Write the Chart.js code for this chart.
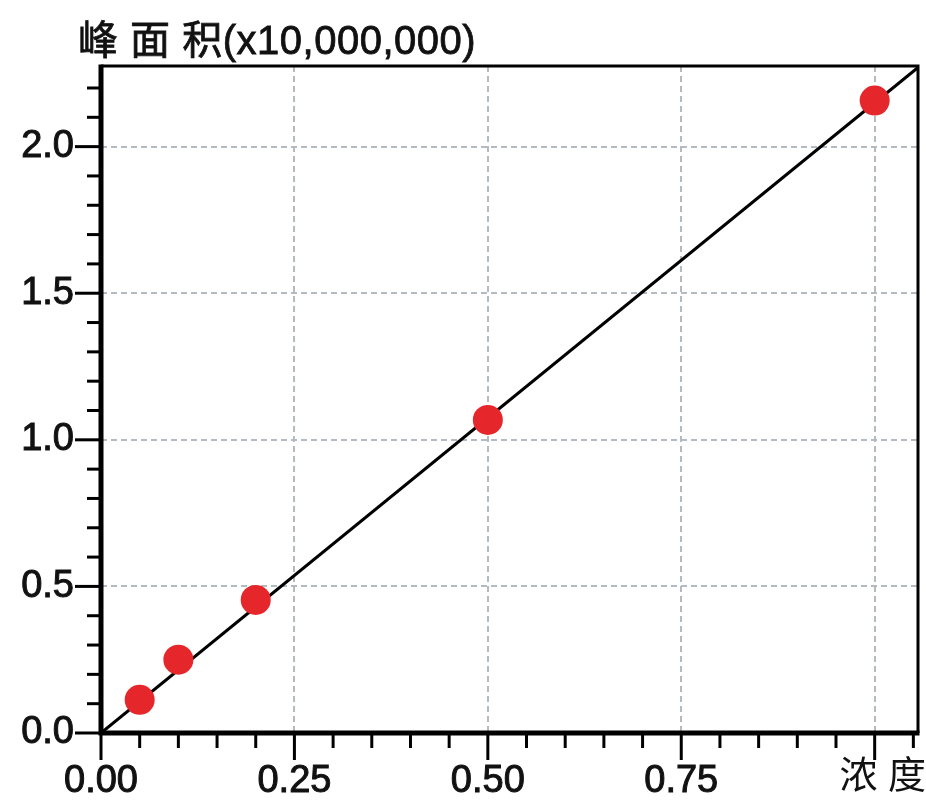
<!DOCTYPE html>
<html>
<head>
<meta charset="utf-8">
<script src="https://cdn.jsdelivr.net/npm/chart.js@4/dist/chart.umd.min.js"></script>
<style>
  html, body { margin: 0; padding: 0; background: #ffffff; }
  #wrap { width: 926px; height: 800px; }
</style>
</head>
<body>
<div id="wrap"><canvas id="c" width="926" height="800"></canvas></div>
<script>
// ---- data ----
const concentrations = [0.05, 0.10, 0.20, 0.50, 1.00];
const peakAreas = [0.113, 0.250, 0.454, 1.068, 2.157];       // x10,000,000
const fitLineX = [0, 1.056];
const fitLineY = [0, 2.270];
const xMajorTicks = [0, 0.25, 0.5, 0.75, 1.0];
const xTickLabels = ['0.00', '0.25', '0.50', '0.75', ''];
const yMajorTicks = [0, 0.5, 1.0, 1.5, 2.0];
const yTickLabels = ['0.0', '0.5', '1.0', '1.5', '2.0'];
const xMinorStep = 0.05, yMinorStep = 0.1;
const yAxisTitle = '峰 面 积(x10,000,000)';
const xAxisTitle = '浓 度';

const FONT = '"Liberation Sans", Arial, "Noto Sans CJK SC", sans-serif';

function matchIndex(arr, v) {
  for (let i = 0; i < arr.length; i++) if (Math.abs(arr[i] - v) < 1e-6) return i;
  return -1;
}

const decorPlugin = {
  id: 'decor',
  beforeDatasetsDraw(chart) {
    const {ctx, chartArea: a, scales: {x, y}} = chart;
    ctx.save();
    ctx.strokeStyle = '#b4bac2';
    ctx.lineWidth = 2;
    ctx.setLineDash([6, 4]);
    xMajorTicks.forEach(v => {
      if (v === 0) return;
      const px = Math.round(x.getPixelForValue(v));
      ctx.beginPath(); ctx.moveTo(px, a.top); ctx.lineTo(px, a.bottom); ctx.stroke();
    });
    yMajorTicks.forEach(v => {
      if (v === 0) return;
      const py = Math.round(y.getPixelForValue(v));
      ctx.beginPath(); ctx.moveTo(a.left, py); ctx.lineTo(a.right, py); ctx.stroke();
    });
    ctx.restore();
  },
  afterDatasetsDraw(chart) {
    const {ctx, chartArea: a, scales: {x, y}} = chart;
    ctx.save();
    ctx.strokeStyle = '#000';
    ctx.setLineDash([]);
    // frame
    ctx.lineWidth = 3;
    ctx.beginPath(); ctx.moveTo(a.left, a.top); ctx.lineTo(a.right, a.top); ctx.lineTo(a.right, a.bottom); ctx.stroke();
    ctx.lineWidth = 5;
    ctx.beginPath(); ctx.moveTo(a.left, a.top - 1.5); ctx.lineTo(a.left, a.bottom); ctx.lineTo(a.right + 1.5, a.bottom); ctx.stroke();
    // ticks
    ctx.lineWidth = 3;
    for (let k = 0; k * xMinorStep <= x.max + 1e-9; k++) {
      const v = k * xMinorStep;
      const major = matchIndex(xMajorTicks, v) >= 0;
      const px = x.getPixelForValue(v);
      ctx.beginPath(); ctx.moveTo(px, a.bottom); ctx.lineTo(px, a.bottom + (major ? 27 : 15)); ctx.stroke();
    }
    for (let k = 0; k * yMinorStep <= y.max + 1e-9; k++) {
      const v = k * yMinorStep;
      const major = matchIndex(yMajorTicks, v) >= 0;
      const py = y.getPixelForValue(v);
      ctx.beginPath(); ctx.moveTo(a.left, py); ctx.lineTo(a.left - (major ? 26 : 14), py); ctx.stroke();
    }
    ctx.restore();
  },
  afterDraw(chart) {
    const {ctx} = chart;
    ctx.save();
    ctx.fillStyle = '#111';
    ctx.strokeStyle = '#111';
    ctx.lineWidth = 0.8;
    ctx.font = '40px ' + FONT;
    ctx.letterSpacing = '0.5px';
    ctx.textBaseline = 'middle';
    ctx.textAlign = 'left';
    ctx.fillText(yAxisTitle, 78, 43);
    ctx.strokeText(yAxisTitle, 78, 43);
    ctx.letterSpacing = '0px';
    ctx.font = '38px ' + FONT;
    ctx.textAlign = 'right';
    ctx.fillText(xAxisTitle, 926, 778);
    ctx.restore();
  }
};

new Chart(document.getElementById('c'), {
  type: 'scatter',
  data: {
    datasets: [
      {
        type: 'line',
        data: fitLineX.map((v, i) => ({x: v, y: fitLineY[i]})),
        borderColor: '#000',
        borderWidth: 3,
        pointRadius: 0,
        fill: false,
        order: 2
      },
      {
        data: concentrations.map((v, i) => ({x: v, y: peakAreas[i]})),
        backgroundColor: '#e5262a',
        borderWidth: 0,
        pointRadius: 15,
        pointHoverRadius: 15,
        order: 1
      }
    ]
  },
  plugins: [decorPlugin],
  options: {
    responsive: false,
    devicePixelRatio: 1,
    animation: false,
    layout: { autoPadding: false, padding: { top: 66, right: 8, left: 0, bottom: 0 } },
    plugins: { legend: { display: false }, tooltip: { enabled: false }, title: { display: false } },
    scales: {
      x: {
        type: 'linear',
        min: 0, max: 1.056,
        afterFit: s => { s.height = 67; s.paddingRight = 0; },
        afterBuildTicks: s => { s.ticks = xMajorTicks.map(v => ({value: v})); },
        grid: { display: true, drawOnChartArea: false, drawTicks: false, color: 'rgba(0,0,0,0)' },
        border: { display: false },
        ticks: {
          autoSkip: false, maxRotation: 0, padding: 26,
          color: '#111', textStrokeColor: '#111', textStrokeWidth: 1,
          font: { family: FONT, size: 38 },
          callback: (v) => { const i = matchIndex(xMajorTicks, v); return i >= 0 ? xTickLabels[i] : ''; }
        }
      },
      y: {
        type: 'linear',
        min: 0, max: 2.275,
        afterFit: s => { s.width = 101; },
        afterBuildTicks: s => { s.ticks = yMajorTicks.map(v => ({value: v})); },
        grid: { display: true, drawOnChartArea: false, drawTicks: false, color: 'rgba(0,0,0,0)' },
        border: { display: false },
        ticks: {
          autoSkip: false, padding: 27,
          color: '#111', textStrokeColor: '#111', textStrokeWidth: 1,
          font: { family: FONT, size: 38 },
          callback: (v) => { const i = matchIndex(yMajorTicks, v); return i >= 0 ? yTickLabels[i] : ''; }
        }
      }
    }
  }
});
</script>
</body>
</html>
